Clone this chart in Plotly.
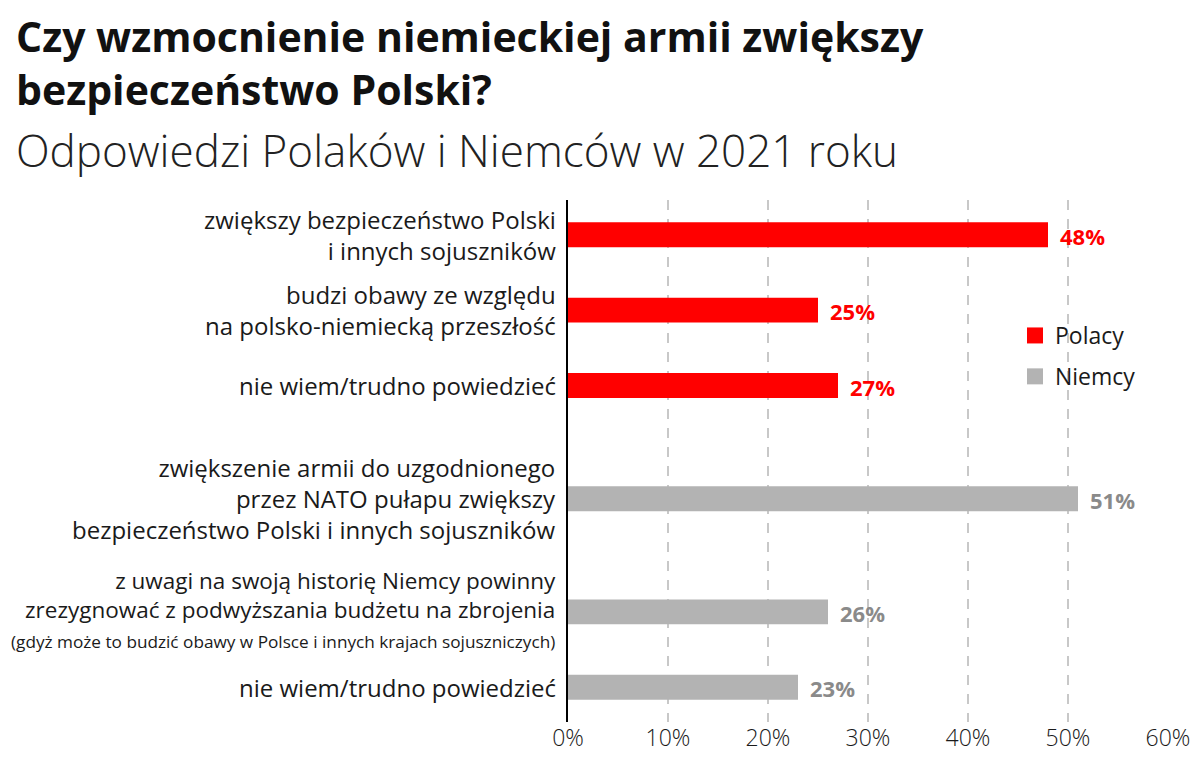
import plotly.graph_objects as go

# ---- data ----
categories = [
    "zwiększy bezpieczeństwo Polski<br>i innych sojuszników",
    "budzi obawy ze względu<br>na polsko-niemiecką przeszłość",
    "nie wiem/trudno powiedzieć",
    "zwiększenie armii do uzgodnionego<br>przez NATO pułapu zwiększy<br>bezpieczeństwo Polski i innych sojuszników",
    "z uwagi na swoją historię Niemcy powinny<br>zrezygnować z podwyższania budżetu na zbrojenia<br><span style='font-size:17.2px'>(gdyż może to budzić obawy w Polsce i innych krajach sojuszniczych)</span>",
    "nie wiem/trudno powiedzieć",
]
cat_ids = ["p1", "p2", "p3", "n1", "n2", "n3"]
polacy_ids = ["p1", "p2", "p3"]
polacy_values = [48, 25, 27]
niemcy_ids = ["n1", "n2", "n3"]
niemcy_values = [51, 26, 23]
x_ticks = [0, 10, 20, 30, 40, 50, 60]
x_tick_labels = ["0%", "10%", "20%", "30%", "40%", "50%", "60%"]

# category order with spacer slots to reproduce group spacing
category_order = ["p1", "s1", "p2", "s2", "p3", "s3", "s4", "n1", "s5", "s6", "n2", "s7", "n3"]

# style
label_font_sizes = [24, 24, 24, 24, 22.5, 24]
label_yshifts = [0, 0, 0, 0, 3, 0]
RED = "#ff0000"
GRAY = "#b3b3b3"
GRAY_TXT = "#8a8a8a"
FONT = "Open Sans"

# layout geometry (figure pixels)
W, H = 1200, 765
ML, MR, MT, MB = 560, 40, 192, 51
PW = W - ML - MR
PH = H - MT - MB


def px_x(fx):
    return (fx - ML) / PW


def px_y(fy):
    return (H - MB - fy) / PH


fig = go.Figure()
fig.add_trace(go.Bar(
    name="Polacy", x=polacy_values, y=polacy_ids, orientation="h",
    marker=dict(color=RED, line=dict(width=0)), width=0.66, showlegend=False,
))
fig.add_trace(go.Bar(
    name="Niemcy", x=niemcy_values, y=niemcy_ids, orientation="h",
    marker=dict(color=GRAY, line=dict(width=0)), width=0.66, showlegend=False,
))
# legend entries (square swatches)
for nm, col, grp in [("Polacy", RED, "a"), ("Niemcy", GRAY, "b")]:
    fig.add_trace(go.Scatter(
        name=nm, x=[None], y=[None], mode="markers",
        marker=dict(symbol="square", size=20, color=col),
        legendgroup=grp, showlegend=True,
    ))

annotations = []
# value labels
for ids, vals, col in [(polacy_ids, polacy_values, RED), (niemcy_ids, niemcy_values, GRAY_TXT)]:
    for i, v in zip(ids, vals):
        annotations.append(dict(
            x=v, y=i, xref="x", yref="y", text=f"<b>{v}%</b>", showarrow=False,
            xanchor="left", yanchor="middle", xshift=10, yshift=-1,
            font=dict(family=FONT, size=22, color=col),
        ))
# category labels
for i, lab, fs, ys in zip(cat_ids, categories, label_font_sizes, label_yshifts):
    annotations.append(dict(
        x=0, y=i, xref="x", yref="y", text=lab, showarrow=False,
        xanchor="right", yanchor="middle", align="right", xshift=-10, yshift=ys,
        font=dict(family=FONT, size=fs, color="#1a1a1a"),
    ))
# title and subtitle
annotations.append(dict(
    x=px_x(6), y=px_y(-2), xref="paper", yref="paper",
    text="<b>Czy wzmocnienie niemieckiej armii zwiększy<br>bezpieczeństwo Polski?</b>",
    showarrow=False, xanchor="left", yanchor="top", align="left",
    font=dict(family=FONT, size=41, color="#111111", weight=800),
))
annotations.append(dict(
    x=px_x(6), y=px_y(110), xref="paper", yref="paper",
    text="Odpowiedzi Polaków i Niemców w 2021 roku",
    showarrow=False, xanchor="left", yanchor="top", align="left",
    font=dict(family=FONT, size=44, color="#222222", weight=300),
))

fig.update_layout(
    width=W, height=H,
    margin=dict(l=ML, r=MR, t=MT, b=MB),
    paper_bgcolor="white", plot_bgcolor="white",
    barmode="overlay",
    font=dict(family=FONT, size=20, color="#1a1a1a"),
    showlegend=True,
    legend=dict(
        x=px_x(1007), y=px_y(306), xanchor="left", yanchor="top",
        font=dict(family=FONT, size=23, color="#1a1a1a"),
        traceorder="grouped", tracegroupgap=8, itemsizing="trace",
        bgcolor="rgba(0,0,0,0)",
    ),
    annotations=annotations,
    xaxis=dict(
        range=[0, 60], tickmode="array", tickvals=x_ticks, ticktext=x_tick_labels,
        showgrid=True, gridcolor="#c8c8c8", gridwidth=1.5, griddash="10px,9px",
        zeroline=False, showline=False, ticks="",
        tickfont=dict(family=FONT, size=23, color="#1a1a1a", weight=300),
        fixedrange=True,
    ),
    yaxis=dict(
        type="category", categoryorder="array", categoryarray=category_order,
        range=[12.92, -0.92], showticklabels=False, ticks="",
        showgrid=False, zeroline=False,
        showline=True, linecolor="#000000", linewidth=2,
        fixedrange=True,
    ),
)

fig.write_html("out.html")
